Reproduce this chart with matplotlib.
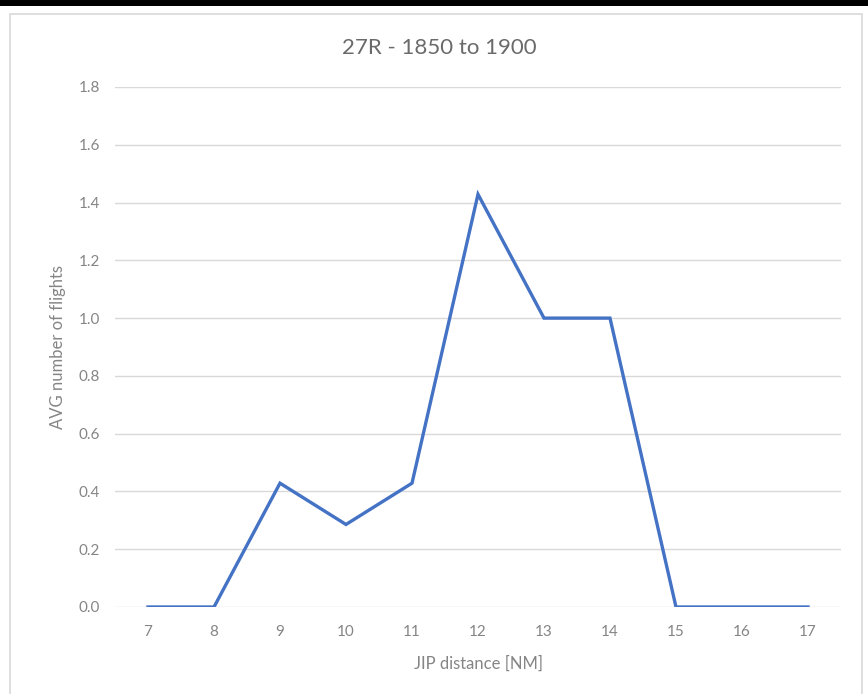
import numpy as np
import matplotlib
matplotlib.use('Agg')
import matplotlib.pyplot as plt
from matplotlib.patches import Rectangle

# data
jip_distance = [7, 8, 9, 10, 11, 12, 13, 14, 15, 16, 17]
avg_flights = [0, 0, 3/7, 2/7, 3/7, 10/7, 1.0, 1.0, 0, 0, 0]
y_ticks = [0.0, 0.2, 0.4, 0.6, 0.8, 1.0, 1.2, 1.4, 1.6, 1.8]

plt.rcParams['font.family'] = ['Lato', 'DejaVu Sans']
grey = '#6a6a6a'
tick_grey = '#858585'

W, H = 868, 694
fig = plt.figure(figsize=(W/100.0, H/100.0), dpi=100, facecolor='white')

# black strip on top and the light chart-area border (drawn behind the axes)
fig.patches.append(Rectangle((0, 1 - 6/H), 1, 6/H, transform=fig.transFigure,
                             facecolor='black', edgecolor='none', zorder=-10))
fig.patches.append(Rectangle((10/W, -0.01), 852/W, (H - 14)/H + 0.01,
                             transform=fig.transFigure, facecolor='white',
                             edgecolor='#d9d9d9', linewidth=1.2, zorder=-10))

ax = fig.add_axes([115/W, 87/H, 726/W, 520/H])
ax.set_facecolor('none')
ax.plot(jip_distance, avg_flights, color='#4472C4', linewidth=2.4,
        solid_joinstyle='miter', zorder=3)

ax.set_xlim(6.5, 17.5)
ax.set_ylim(0, 1.8)
ax.set_xticks(jip_distance)
ax.set_yticks(y_ticks)
ax.set_yticklabels(['%.1f' % v for v in y_ticks])
ax.grid(axis='y', color='#d9d9d9', linewidth=1)
ax.set_axisbelow(True)
for s in ax.spines.values():
    s.set_visible(False)
ax.tick_params(length=0, colors=tick_grey, labelsize=11)
ax.tick_params(axis='x', pad=13)
ax.tick_params(axis='y', pad=11)

fig.text(439/W, 1 - 48/H, '27R - 1850 to 1900', color=grey, fontsize=16,
         ha='center', va='center')
ax.set_xlabel('JIP distance [NM]', color=tick_grey, fontsize=12)
ax.set_ylabel('AVG number of flights', color=tick_grey, fontsize=12)
ax.xaxis.set_label_coords(0.5, (607 - 656) / 520)
ax.yaxis.set_label_coords((66 - 115) / 726, 0.5)

fig.savefig('out.png', dpi=100, facecolor=fig.get_facecolor())
